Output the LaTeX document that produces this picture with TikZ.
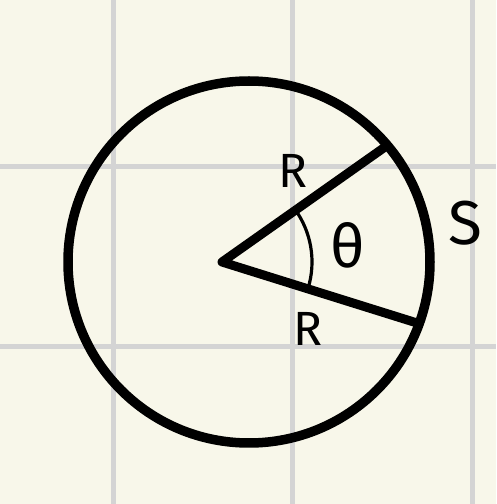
\documentclass[tikz,border=0pt]{standalone}
\usepackage{fontspec}
\setmainfont{Fira Sans}
\usepackage{xcolor}
\usepackage{tikz}

\begin{document}
\begin{tikzpicture}[x = {(1pt,0pt)},
                    y = {(0pt,1pt)}]


  % COLORS
  \definecolor{papercolor}{HTML}{F8F7EA}
  \definecolor{gridcolor}{HTML}{D4D4D4}
  \definecolor{inkcolor}{rgb}{ 0,0,0 }


  % STYLES
  \tikzstyle{gridstyle} = [draw=gridcolor, line width=5pt]
  \tikzstyle{rimstyle} = [draw=inkcolor, line width=9.5pt]
  \tikzstyle{radiusstyle} = [draw=inkcolor, line width=9pt, line cap=round, line join=round]
  \tikzstyle{anglestyle} = [draw=inkcolor, line width=3.2pt, line cap=round]
  \tikzstyle{labelstyle} = [inner sep=0pt, text=inkcolor]


  % PAPER and GRID
  \fill[papercolor] (0, 0) rectangle (496, 504);
  \useasboundingbox (0, 0) rectangle (496, 504);
  \foreach \gx in {113, 292, 472}
    \draw[gridstyle] (\gx, 0) -- (\gx, 504);
  \foreach \gy in {157, 337}
    \draw[gridstyle] (0, \gy) -- (496, \gy);


  % DEF POINTS
  \coordinate (center) at (249, 242);
  \coordinate (vertex) at (222, 242);
  \coordinate (upend) at (385, 357);
  \coordinate (lowend) at (417, 181);


  % CIRCLE
  \draw[rimstyle] (center) circle (181);


  % RADII
  \draw[radiusstyle] (upend) -- (vertex) -- (lowend);


  % ANGLE
  \draw[anglestyle] ([shift={(36:90)}]vertex) arc[start angle=36, end angle=-17, radius=90];


  % LABELS
  \node[labelstyle] (rup) at (293, 333) {\fontsize{48}{48}\selectfont R};
  \node[labelstyle] (rlow) at (308, 175) {\fontsize{48}{48}\selectfont R};
  \node[labelstyle] (theta) at (348, 259) {\fontsize{60}{60}\selectfont θ};
  \node[labelstyle] (arclen) at (465, 281) {\fontsize{62}{62}\selectfont S};

\end{tikzpicture}
\end{document}
